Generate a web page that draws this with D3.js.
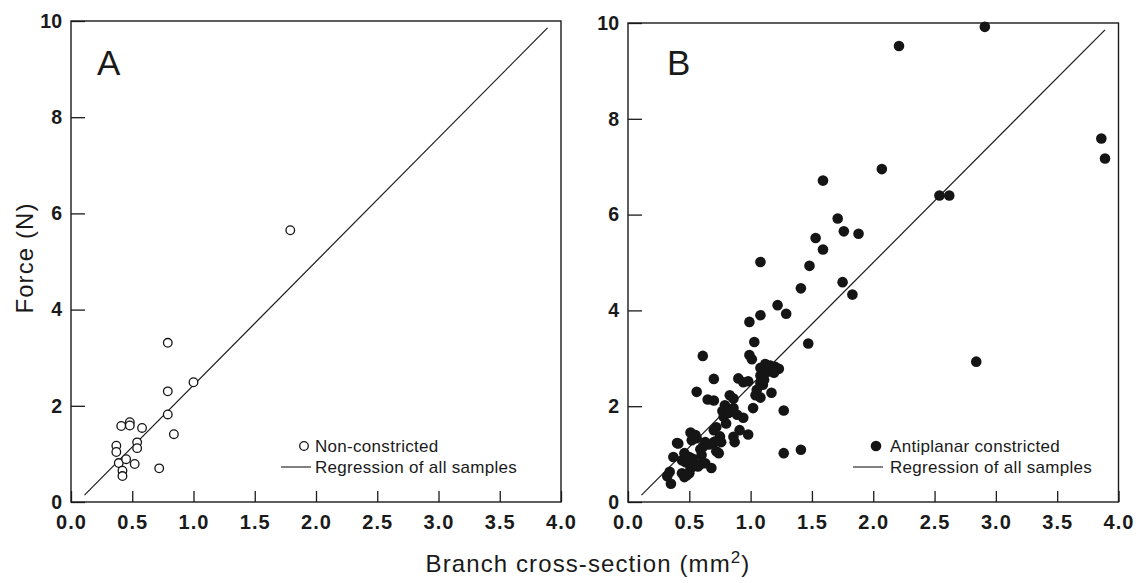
<!DOCTYPE html>
<html>
<head>
<meta charset="utf-8">
<script src="https://cdn.jsdelivr.net/npm/d3@7"></script>
<style>
  body { margin: 0; background: #fff; }
  svg { display: block; font-family: "Liberation Sans", Arial, sans-serif; }
  .axis text { font-weight: bold; fill: #1a1a1a; }
  .axis line { stroke: #1a1a1a; stroke-width: 1.3; }
  .axis path { display: none; }
</style>
</head>
<body>
<svg id="chart"></svg>
<script>
// data
var xTicks = [0, 0.5, 1, 1.5, 2, 2.5, 3, 3.5, 4];
var yTicks = [0, 2, 4, 6, 8, 10];

// panel A : non-constricted (x = cross-section mm2, y = force N)
var nonConstrictedX = [0.79, 1.00, 0.79, 0.79, 0.84, 0.72, 0.41, 0.48, 0.48, 0.58, 0.54, 0.54, 0.37, 0.37, 0.39, 0.45, 0.52, 0.42, 0.42, 1.79];
var nonConstrictedY = [3.31, 2.49, 2.30, 1.82, 1.41, 0.70, 1.58, 1.66, 1.59, 1.54, 1.24, 1.12, 1.17, 1.04, 0.81, 0.89, 0.79, 0.65, 0.54, 5.65];

// panel B : antiplanar constricted
var antiplanarX = [2.21, 2.91, 3.86, 3.89, 2.07, 1.59, 2.54, 2.62, 1.71, 1.76, 1.88, 1.53, 1.59, 1.08, 1.48, 1.41, 1.75, 1.83, 1.22, 1.29,
  1.08, 0.99, 1.03, 1.47, 2.84, 0.61, 0.99, 1.01, 1.27, 1.27, 1.41,
  1.08, 1.12, 1.16, 1.20, 1.23, 1.14, 1.19, 1.08, 1.11, 1.10, 1.08, 1.17, 1.04, 1.08, 1.02, 1.05,
  0.70, 0.90, 0.94, 0.98, 0.56, 0.65, 0.70, 0.83, 0.86, 0.79, 0.77, 0.86, 0.89, 0.94, 0.78, 0.80, 0.82, 0.91, 0.98,
  0.86, 0.87, 0.72, 0.70, 0.71, 0.75, 0.76, 0.72, 0.70, 0.63, 0.59, 0.51, 0.52, 0.56, 0.55, 0.60, 0.59, 0.68,
  0.40, 0.37, 0.44, 0.47, 0.50, 0.53, 0.34, 0.32, 0.35, 0.44, 0.46, 0.48, 0.50, 0.51, 0.57, 0.63, 0.66, 0.61,
  0.74, 0.49, 0.46, 0.41];
var antiplanarY = [9.52, 9.92, 7.59, 7.17, 6.95, 6.71, 6.40, 6.40, 5.92, 5.65, 5.60, 5.51, 5.27, 5.01, 4.93, 4.46, 4.59, 4.33, 4.11, 3.93,
  3.90, 3.76, 3.34, 3.31, 2.93, 3.05, 3.07, 2.98, 1.91, 1.02, 1.09,
  2.80, 2.88, 2.85, 2.82, 2.78, 2.72, 2.70, 2.64, 2.55, 2.45, 2.48, 2.28, 2.23, 2.18, 1.96, 2.34,
  2.57, 2.58, 2.50, 2.52, 2.30, 2.14, 2.12, 2.23, 2.16, 2.02, 1.90, 1.96, 1.82, 1.76, 1.78, 1.64, 1.86, 1.50, 1.41,
  1.36, 1.25, 1.56, 1.50, 1.26, 1.37, 1.25, 1.06, 1.25, 1.25, 1.10, 1.45, 1.29, 1.33, 1.40, 0.98, 0.79, 0.71,
  1.23, 0.94, 0.87, 0.83, 0.94, 0.90, 0.63, 0.54, 0.38, 0.60, 0.52, 0.56, 0.60, 0.70, 0.74, 0.81, 1.20, 1.15,
  1.02, 0.84, 1.02, 1.22];

// regression of all samples
var regressionRange = [0.11, 3.89];
var regressionSlope = 2.57;
var regressionIntercept = -0.14;

var width = 1139, height = 583;
var svg = d3.select("#chart").attr("width", width).attr("height", height);

var panels = [
  { key: "A", left: 71, right: 561, top: 21, bottom: 502, xs: nonConstrictedX, ys: nonConstrictedY,
    filled: false, r: 4.3, legendLabel: "Non-constricted",
    labelX: 97, legendCircleX: 304, legendLine: [281, 311], legendTextX: 315 },
  { key: "B", left: 628, right: 1118.5, top: 23, bottom: 502, xs: antiplanarX, ys: antiplanarY,
    filled: true, r: 5.3, legendLabel: "Antiplanar constricted",
    labelX: 667, legendCircleX: 876, legendLine: [853, 883], legendTextX: 890 }
];

panels.forEach(function(p) {
  var x = d3.scaleLinear().domain([0, 4]).range([p.left, p.right]);
  var y = d3.scaleLinear().domain([0, 10]).range([p.bottom, p.top]);
  var g = svg.append("g");

  // x axis
  var xAxis = d3.axisBottom(x).tickValues(xTicks).tickFormat(d3.format(".1f"))
    .tickSizeInner(-11).tickSizeOuter(0).tickPadding(13);
  g.append("g").attr("class", "axis")
    .attr("transform", "translate(0," + p.bottom + ")")
    .call(xAxis)
    .selectAll("text").style("font-size", "20px").style("letter-spacing", "1px");

  // y axis
  var yAxis = d3.axisLeft(y).tickValues(yTicks).tickFormat(d3.format("d"))
    .tickSizeInner(-14).tickSizeOuter(0).tickPadding(9);
  g.append("g").attr("class", "axis")
    .attr("transform", "translate(" + p.left + ",0)")
    .call(yAxis)
    .selectAll("text").style("font-size", "19.5px");

  // frame
  g.append("rect")
    .attr("x", p.left).attr("y", p.top)
    .attr("width", p.right - p.left).attr("height", p.bottom - p.top)
    .attr("fill", "none").attr("stroke", "#1a1a1a").attr("stroke-width", 1.4);

  // regression line
  var line = d3.line()
    .x(function(d) { return x(d); })
    .y(function(d) { return y(regressionIntercept + regressionSlope * d); });
  g.append("path").datum(regressionRange)
    .attr("d", line)
    .attr("fill", "none").attr("stroke", "#1a1a1a").attr("stroke-width", 1.2);

  // points
  g.selectAll("circle.pt")
    .data(d3.range(p.xs.length))
    .enter().append("circle")
    .attr("class", "pt")
    .attr("cx", function(i) { return x(p.xs[i]); })
    .attr("cy", function(i) { return y(p.ys[i]); })
    .attr("r", p.r)
    .attr("fill", p.filled ? "#151515" : "#fff")
    .attr("stroke", "#151515")
    .attr("stroke-width", p.filled ? 0 : 1.3);

  // panel letter
  g.append("text")
    .attr("x", p.labelX).attr("y", 75)
    .style("font-size", "35px").attr("fill", "#1a1a1a")
    .text(p.key);

  // legend
  g.append("circle")
    .attr("cx", p.legendCircleX).attr("cy", 446).attr("r", p.r)
    .attr("fill", p.filled ? "#151515" : "#fff")
    .attr("stroke", "#151515").attr("stroke-width", p.filled ? 0 : 1.3);
  g.append("text")
    .attr("x", p.legendTextX).attr("y", 452)
    .style("font-size", "17px").style("letter-spacing", "0.3px").attr("fill", "#1a1a1a")
    .text(p.legendLabel);
  g.append("line")
    .attr("x1", p.legendLine[0]).attr("x2", p.legendLine[1])
    .attr("y1", 467).attr("y2", 467)
    .attr("stroke", "#1a1a1a").attr("stroke-width", 1.1);
  g.append("text")
    .attr("x", p.legendTextX).attr("y", 473)
    .style("font-size", "17px").style("letter-spacing", "0.3px").attr("fill", "#1a1a1a")
    .text("Regression of all samples");
});

// axis titles
svg.append("text")
  .attr("transform", "translate(33,258) rotate(-90)")
  .attr("text-anchor", "middle")
  .style("font-size", "24px").style("letter-spacing", "1.1px").attr("fill", "#1a1a1a")
  .text("Force (N)");

var xTitle = svg.append("text")
  .attr("x", 588).attr("y", 572)
  .attr("text-anchor", "middle")
  .style("font-size", "24px").style("letter-spacing", "1.1px").attr("fill", "#1a1a1a");
xTitle.append("tspan").text("Branch cross-section (mm");
xTitle.append("tspan").attr("dy", -9).style("font-size", "17px").text("2");
xTitle.append("tspan").attr("dy", 9).text(")");
</script>
</body>
</html>
